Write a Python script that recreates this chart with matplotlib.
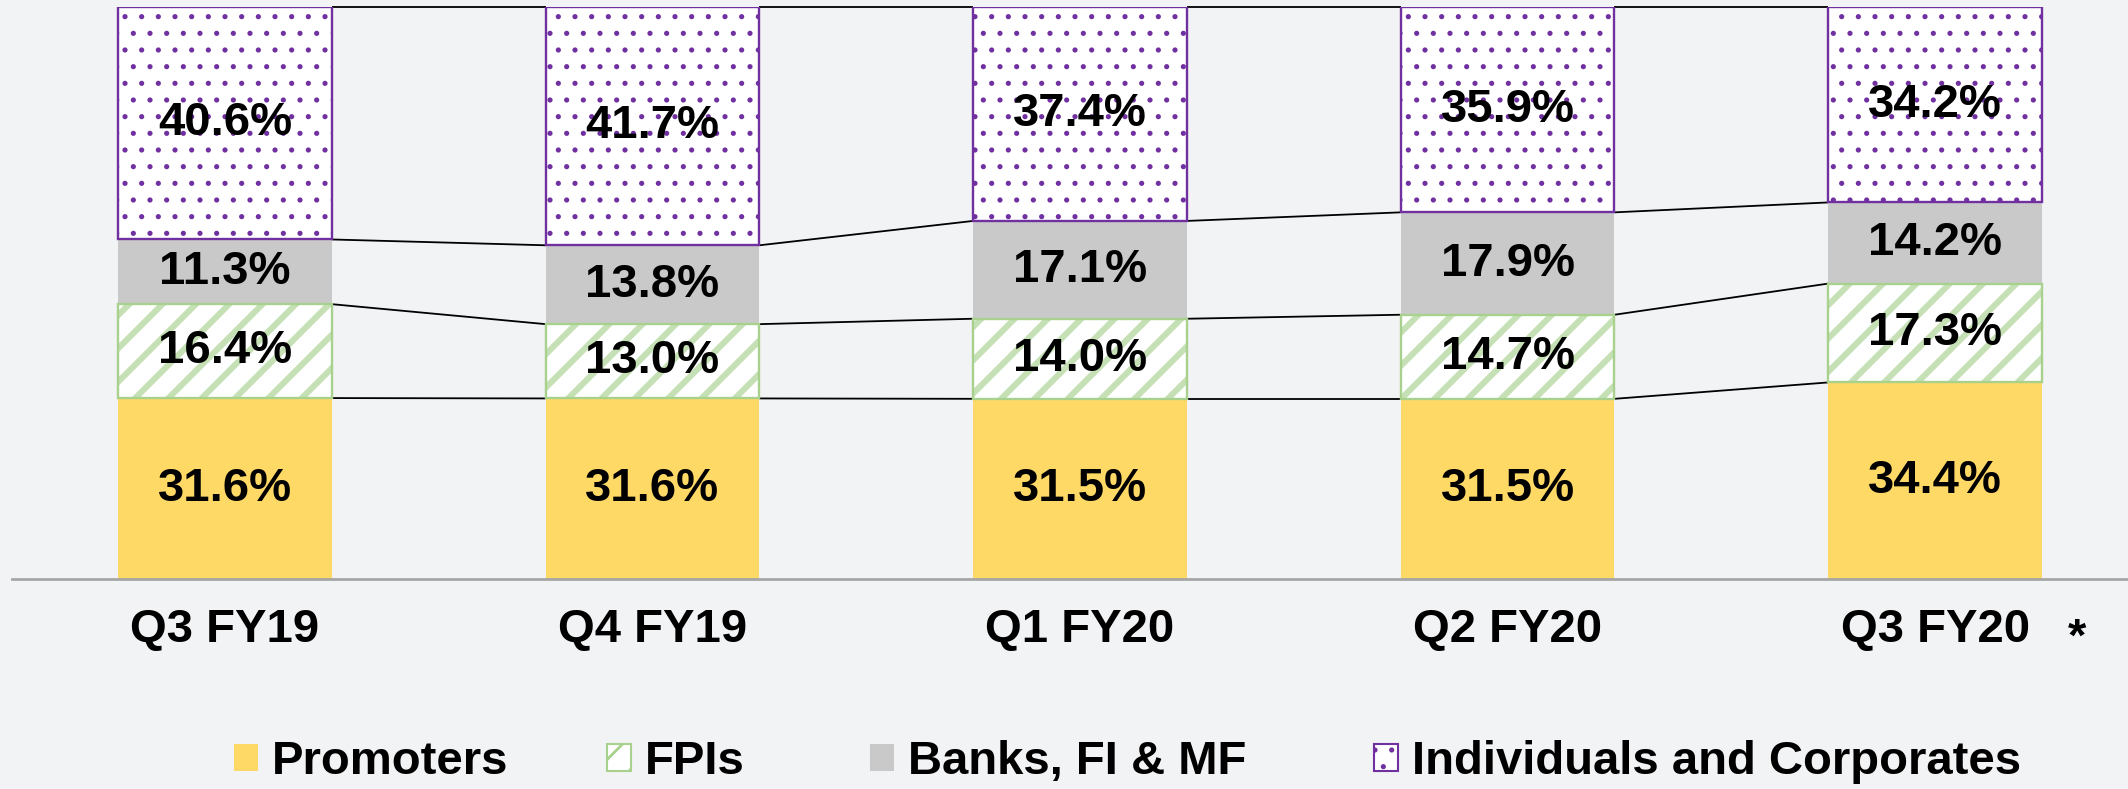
import matplotlib
matplotlib.use("Agg")
import matplotlib.pyplot as plt
from matplotlib.patches import Patch
import numpy as np

categories = ["Q3 FY19", "Q4 FY19", "Q1 FY20", "Q2 FY20", "Q3 FY20"]
promoters = [31.6, 31.6, 31.5, 31.5, 34.4]
fpis = [16.4, 13.0, 14.0, 14.7, 17.3]
banks = [11.3, 13.8, 17.1, 17.9, 14.2]
individuals = [40.6, 41.7, 37.4, 35.9, 34.2]
series_names = ["Promoters", "FPIs", "Banks, FI & MF", "Individuals and Corporates"]

plt.rcParams['font.family'] = ['Liberation Sans', 'DejaVu Sans']
plt.rcParams['font.weight'] = 'bold'

W, H = 2128, 789
DPI = 100
fig = plt.figure(figsize=(W / DPI, H / DPI), dpi=DPI)
bg = '#F2F3F5'
fig.patch.set_facecolor(bg)
ax = fig.add_axes([12 / W, 210 / H, (W - 12) / W, 572 / H])
ax.set_facecolor('none')

x = np.arange(len(categories))
bw = 0.5
YEL = '#FFD966'
GRN_H = '#C5E0B4'
GRN_E = '#A9D18E'
GRY = '#C9C9C9'
PUR = '#7030A0'


def with_hatch_lw(artist, lw):
    orig = artist.draw

    def draw(renderer, _orig=orig, _lw=lw):
        with plt.rc_context({'hatch.linewidth': _lw}):
            _orig(renderer)
    artist.draw = draw
    if hasattr(artist, 'set_hatch_linewidth'):
        try:
            artist.set_hatch_linewidth(lw)
        except Exception:
            pass


# 100% stacked: each column scaled to its total
raw = [np.array(s, dtype=float) for s in (promoters, fpis, banks, individuals)]
totals = sum(raw)
scaled = [r / totals * 100 for r in raw]

styles = [
    dict(kind='solid', color=YEL),
    dict(kind='hatch', hatch='/', hcolor=GRN_H, ecolor=GRN_E, hlw=4.4),
    dict(kind='solid', color=GRY),
    dict(kind='hatch', hatch='.', hcolor=PUR, ecolor=PUR, hlw=1.3),
]

bottom = np.zeros(len(categories))
tops = []
for vals, rvals, st in zip(scaled, raw, styles):
    if st['kind'] == 'solid':
        ax.bar(x, vals, bw, bottom=bottom, color=st['color'], linewidth=0, zorder=2)
    else:
        bars = ax.bar(x, vals, bw, bottom=bottom, color='white', edgecolor=st['hcolor'],
                      linewidth=0, hatch=st['hatch'], zorder=2)
        for b in bars:
            with_hatch_lw(b, st['hlw'])
        ax.bar(x, vals, bw, bottom=bottom, facecolor='none', edgecolor=st['ecolor'],
               linewidth=1.7, zorder=3)
    for i in range(len(categories)):
        ax.text(x[i], bottom[i] + vals[i] / 2, f"{rvals[i]:.1f}%", ha='center',
                va='center', fontsize=34, fontweight='bold', color='black', zorder=5)
    bottom = bottom + vals
    tops.append(bottom.copy())

# series lines between adjacent columns
for c in tops:
    for i in range(len(categories) - 1):
        ax.plot([x[i] + bw / 2, x[i + 1] - bw / 2], [c[i], c[i + 1]],
                color='black', lw=1.3, zorder=1, clip_on=False,
                solid_capstyle='butt')

ax.set_xlim(-0.498, 4.451)
ax.set_ylim(0, 100)
ax.set_xticks(x)
ax.set_xticklabels(categories, fontsize=34, fontweight='bold')
ax.tick_params(axis='x', length=0, pad=21)
ax.set_yticks([])
for s in ['top', 'left', 'right']:
    ax.spines[s].set_visible(False)
ax.spines['bottom'].set_color('#A6A6A6')
ax.spines['bottom'].set_linewidth(2)
ax.spines['bottom'].set_zorder(4)

fig.text(2077 / W, (H - 651) / H, '*', ha='center', va='baseline',
         fontsize=34, fontweight='bold')

handles = [
    Patch(facecolor=YEL, edgecolor=YEL, linewidth=0),
    Patch(facecolor='white', edgecolor=GRN_E, hatch='/', linewidth=1.5),
    Patch(facecolor=GRY, edgecolor=GRY, linewidth=0),
    Patch(facecolor='white', edgecolor=PUR, hatch='.', linewidth=1.5),
]
leg_x = [234, 607, 870, 1374]
for h, name, lx, st in zip(handles, series_names, leg_x, styles):
    leg = fig.legend([h], [name], loc='center left',
                     bbox_to_anchor=(lx / W, (H - 762) / H), ncol=1, frameon=False,
                     prop={'size': 34, 'weight': 'bold'}, handlelength=0.51,
                     handleheight=0.49, handletextpad=0.3,
                     borderpad=0, borderaxespad=0)
    if st['kind'] == 'hatch':
        for p in leg.get_patches():
            with_hatch_lw(p, min(st['hlw'], 2.0))

fig.savefig('out.png', dpi=DPI, facecolor=fig.get_facecolor())
